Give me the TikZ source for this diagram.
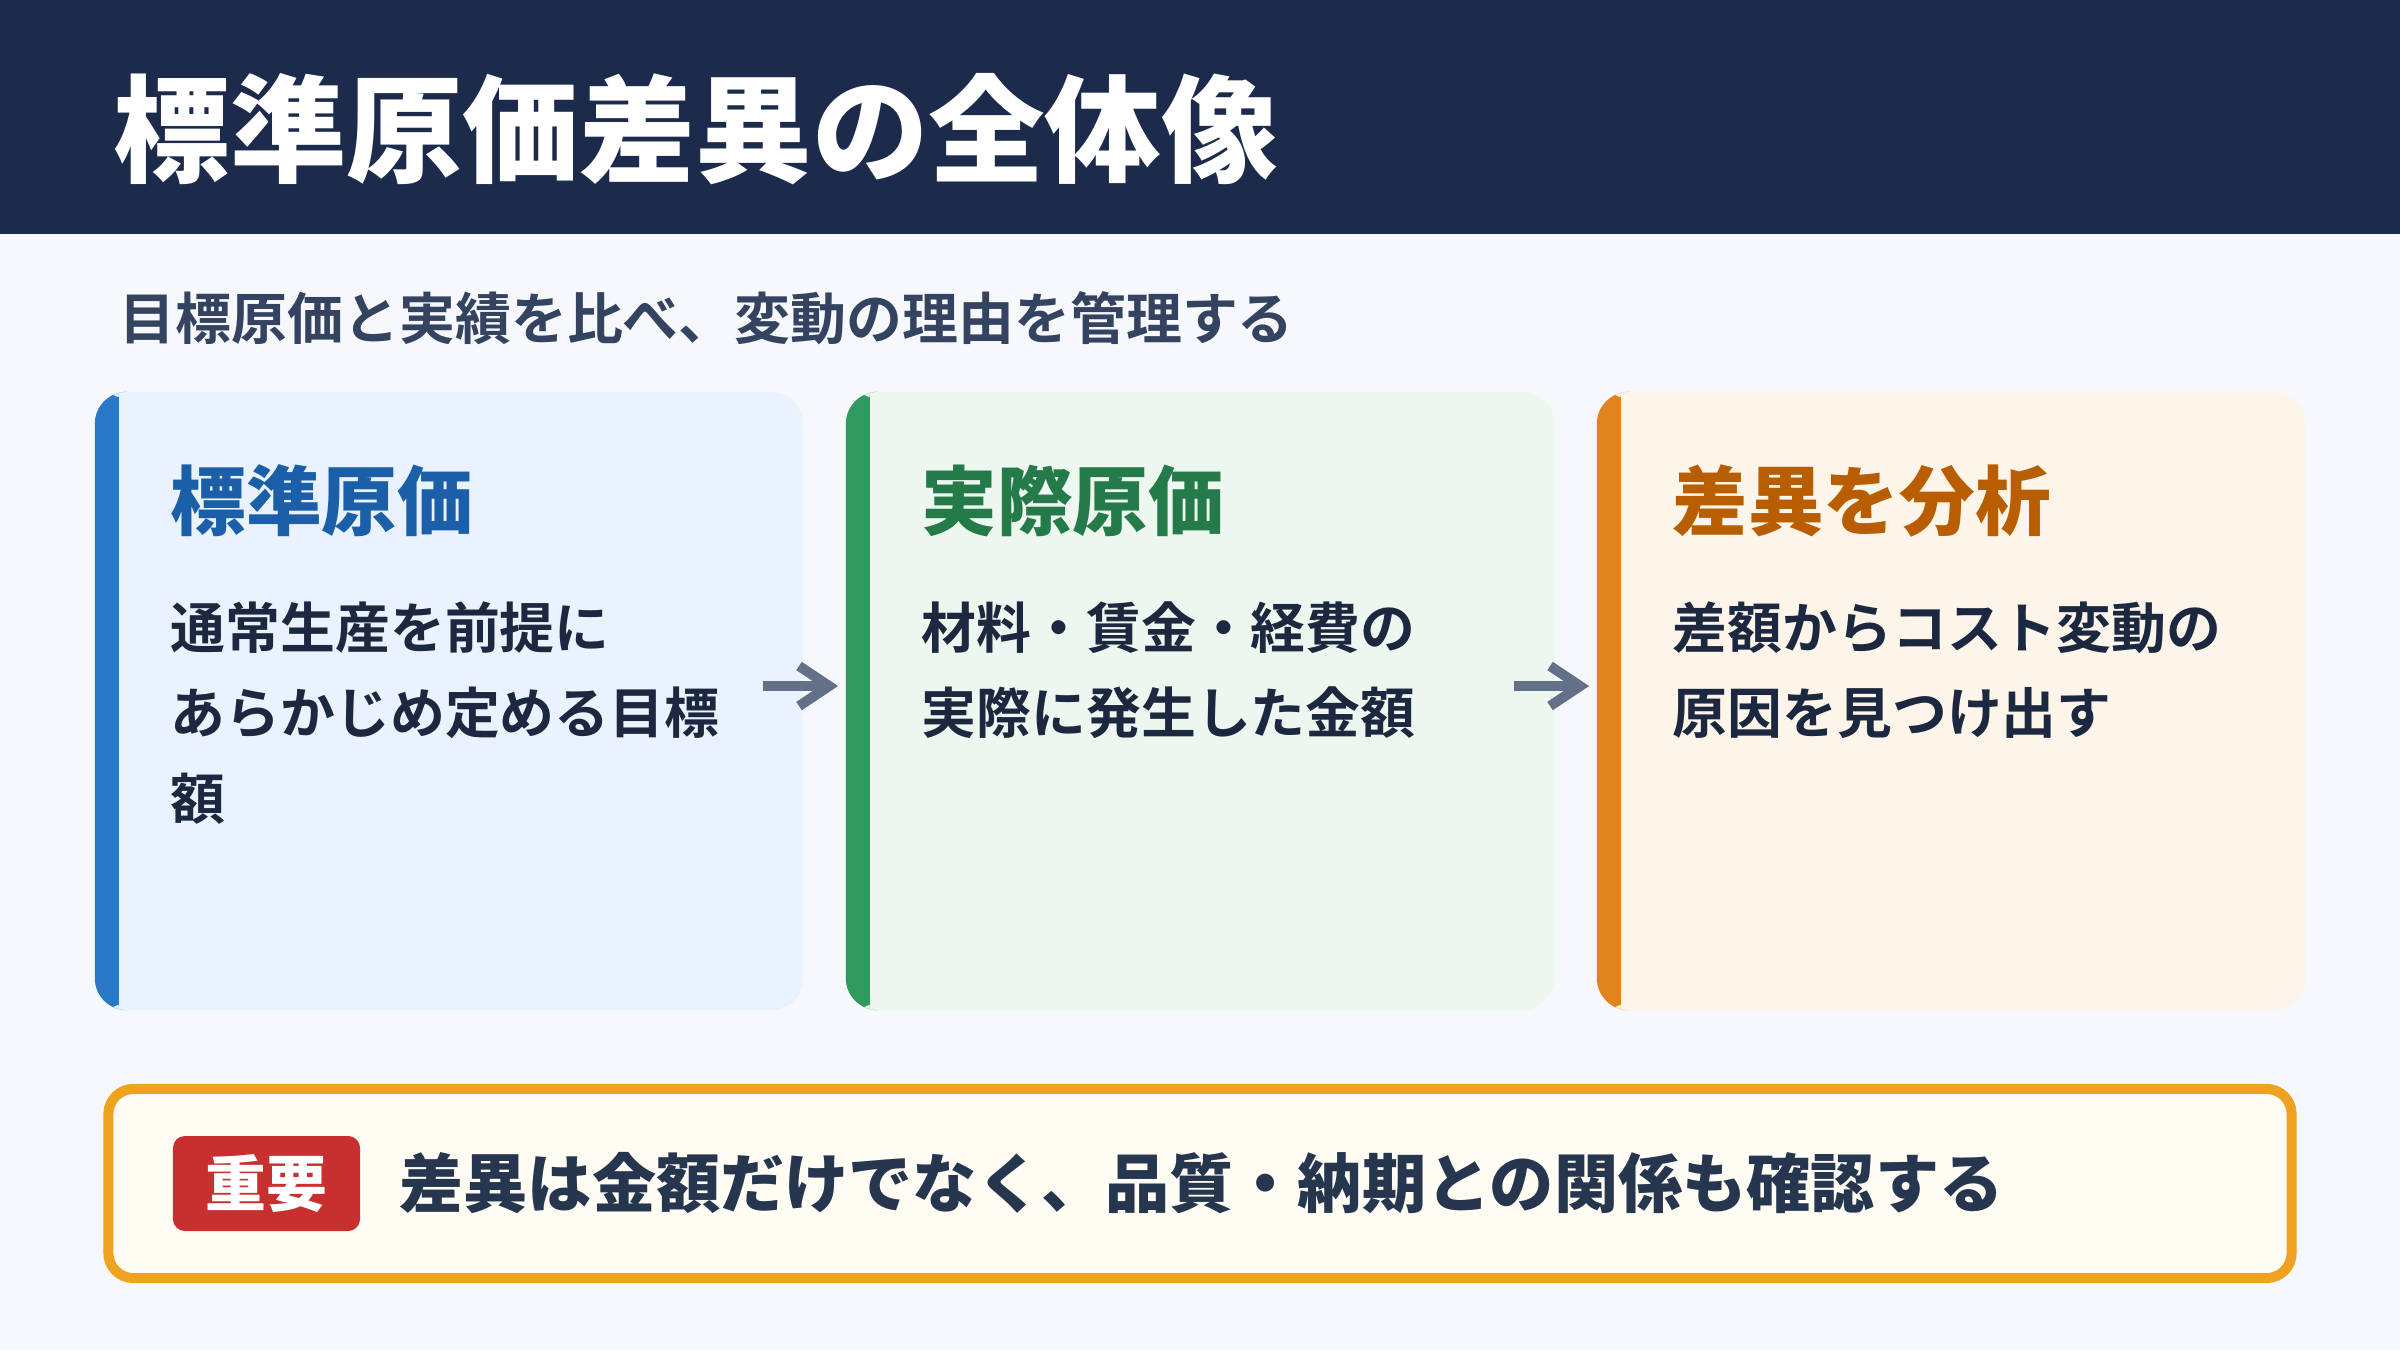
\documentclass[tikz,border=0pt]{standalone}
\usepackage{fontspec}
\setmainfont{Noto Sans CJK JP}[BoldFont={Noto Sans CJK JP Bold}]
\newfontfamily\heavyjp{Noto Sans CJK JP Black}
\usetikzlibrary{positioning,arrows.meta}

\definecolor{pagebg}{HTML}{F6F8FC}
\definecolor{titlebar}{HTML}{1C2B4B}
\definecolor{subtext}{HTML}{334360}
\definecolor{ink}{HTML}{1C2840}
\definecolor{arrowgray}{HTML}{627088}
\definecolor{bluefill}{HTML}{EAF2FE}
\definecolor{blueedge}{HTML}{2A78C8}
\definecolor{bluehead}{HTML}{1B5FA8}
\definecolor{greenfill}{HTML}{EDF7F0}
\definecolor{greenedge}{HTML}{2F9960}
\definecolor{greenhead}{HTML}{247A48}
\definecolor{orangefill}{HTML}{FEF5EA}
\definecolor{orangeedge}{HTML}{E0841E}
\definecolor{orangehead}{HTML}{B85E00}
\definecolor{notefill}{HTML}{FFFCF4}
\definecolor{notebar}{HTML}{EFA21F}
\definecolor{notetext}{HTML}{27364F}
\definecolor{badgered}{HTML}{C82F2F}

\tikzset{
  accent/.style={path picture={
      \fill[#1] (path picture bounding box.north west) -- ([shift={(30,0)}]path picture bounding box.north west)
      .. controls ([shift={(26.7,0)}]path picture bounding box.north west) and ([shift={(24,13.4)}]path picture bounding box.north west)
      .. ([shift={(24,30)}]path picture bounding box.north west)
      -- ([shift={(24,-30)}]path picture bounding box.south west)
      .. controls ([shift={(24,-13.4)}]path picture bounding box.south west) and ([shift={(26.7,0)}]path picture bounding box.south west)
      .. ([shift={(30,0)}]path picture bounding box.south west)
      -- (path picture bounding box.south west) -- cycle;
  }},
}

\begin{document}
\begin{tikzpicture}[x=0.01cm, y=-0.01cm,
    card/.style={rounded corners=0.32cm, minimum width=7.08cm, minimum height=6.18cm, inner sep=0pt},
    heading/.style={anchor=west, inner sep=0pt, font=\heavyjp\fontsize{21.5pt}{26pt}\selectfont},
    body/.style={anchor=north west, inner sep=0pt, align=left, text=ink,
      font=\bfseries\fontsize{15.6pt}{24.3pt}\selectfont},
    flow/.style={draw=arrowgray, line width=0.1cm, -{Straight Barb[length=0.3cm, width=0.4cm]}},
  ]
  \useasboundingbox (0,0) rectangle (2400,1350);
  \fill[pagebg] (0,0) rectangle (2400,1350);
  \fill[titlebar] (0,0) rectangle (2400,234);

  \node[anchor=west, inner sep=0pt, text=white, font=\heavyjp\fontsize{33.1pt}{40pt}\selectfont]
    (title) at (113,129) {標準原価差異の全体像};
  \node[anchor=west, inner sep=0pt, text=subtext, font=\bfseries\fontsize{15.9pt}{20pt}\selectfont]
    (subtitle) at (119,318) {目標原価と実績を比べ、変動の理由を管理する};

  % three cards
  \node[card, fill=bluefill, accent=blueedge] (std) at (449,701) {};
  \node[card, fill=greenfill, accent=greenedge] (act) at (1200,701) {};
  \node[card, fill=orangefill, accent=orangeedge] (ana) at (1951,701) {};

  \node[heading, text=bluehead] (stdhead) at (170,501) {標準原価};
  \node[heading, text=greenhead] (acthead) at (921,501) {実際原価};
  \node[heading, text=orangehead] (anahead) at (1672,501) {差異を分析};

  \node[body] (stdtext) at (170,601) {通常生産を前提に\\あらかじめ定める目標\\額};
  \node[body] (acttext) at (921,601) {材料・賃金・経費の\\実際に発生した金額};
  \node[body] (anatext) at (1672,601) {差額からコスト変動の\\原因を見つけ出す};

  \draw[flow] ([shift={(-41,-15)}]std.east) -- ([shift={(-7,-15)}]act.west);
  \draw[flow] ([shift={(-41,-15)}]act.east) -- ([shift={(-7,-15)}]ana.west);

  % note box
  \node[draw=notebar, fill=notefill, line width=0.1cm, rounded corners=0.25cm,
    minimum width=21.82cm, minimum height=1.89cm] (note) at (1200,1183.5) {};
  \node[fill=badgered, text=white, rounded corners=0.12cm, minimum width=1.87cm, minimum height=0.95cm,
    inner sep=0pt, font=\heavyjp\fontsize{17.3pt}{20pt}\selectfont] (badge) at (266.5,1183.5) {重要};
  \node[right=0.38cm of badge, inner sep=0pt, text=notetext, font=\heavyjp\fontsize{18.25pt}{22pt}\selectfont]
    (notemsg) {差異は金額だけでなく、品質・納期との関係も確認する};
\end{tikzpicture}
\end{document}
